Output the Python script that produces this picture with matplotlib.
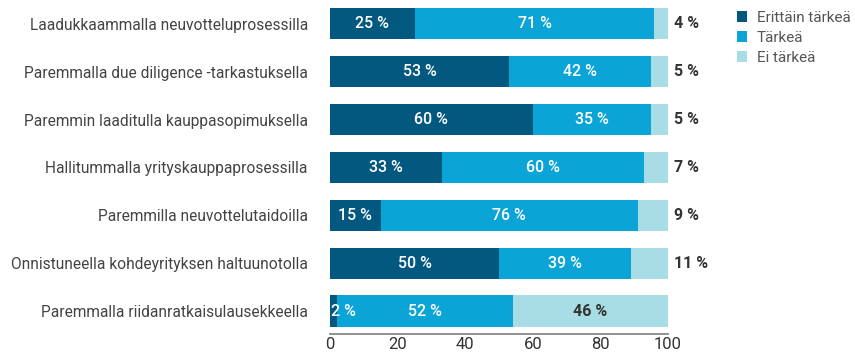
import matplotlib
matplotlib.use("Agg")
from matplotlib import pyplot as plt
import numpy as np

plt.rcParams["font.family"] = ["Roboto", "DejaVu Sans"]

categories = [
    "Laadukkaammalla neuvotteluprosessilla",
    "Paremmalla due diligence -tarkastuksella",
    "Paremmin laaditulla kauppasopimuksella",
    "Hallitummalla yrityskauppaprosessilla",
    "Paremmilla neuvottelutaidoilla",
    "Onnistuneella kohdeyrityksen haltuunotolla",
    "Paremmalla riidanratkaisulausekkeella",
]
erittain = [25, 53, 60, 33, 15, 50, 2]
tarkea = [71, 42, 35, 60, 76, 39, 52]
ei_tarkea = [4, 5, 5, 7, 9, 11, 46]
series_names = ["Erittäin tärkeä", "Tärkeä", "Ei tärkeä"]
colors = ["#02587f", "#0aa4d6", "#a9dde6"]

fig = plt.figure(figsize=(8.55, 3.52), dpi=100)
ax = fig.add_axes([330 / 855, 18 / 352, 338 / 855, 334 / 352])

y = np.arange(len(categories))
left = np.zeros(len(categories))
lbl = dict(fontsize=11.5, fontweight="medium", va="center")
dark = dict(fontsize=11.5, fontweight="bold", va="center", color="#333333")
for vals, name, col in zip([erittain, tarkea, ei_tarkea], series_names, colors):
    vals = np.array(vals)
    ax.barh(y, vals, left=left, height=0.65, color=col, label=name)
    for i, v in enumerate(vals):
        if col == colors[2]:
            if v < 20:
                ax.text(101.8, y[i], f"{v} %", ha="left", **dark)
            else:
                ax.text(left[i] + v / 2, y[i], f"{v} %", ha="center", **dark)
        elif v < 5:
            ax.text(left[i] + 0.2, y[i], f"{v} %", ha="left", color="white", **lbl)
        else:
            ax.text(left[i] + v / 2, y[i], f"{v} %", ha="center", color="white", **lbl)
    left += vals

ax.set_yticks(y)
ax.set_yticklabels(categories, fontsize=11.2, color="#444444")
ax.set_ylim(len(categories) - 0.52, -0.5)
ax.set_xlim(0, 100)
ax.set_xticks([0, 20, 40, 60, 80, 100])
ax.tick_params(axis="x", length=0, labelsize=12, colors="#333333", pad=2)
ax.tick_params(axis="y", length=0, pad=16)
for s in ["top", "right", "left"]:
    ax.spines[s].set_visible(False)
ax.spines["bottom"].set_color("#888888")
ax.spines["bottom"].set_linewidth(1.3)

leg = fig.legend(loc="upper left", bbox_to_anchor=(726 / 855, 1.0), frameon=False,
                 fontsize=11, handlelength=0.7, handleheight=0.7, handletextpad=0.6,
                 labelspacing=0.4, borderaxespad=0.3)
for t in leg.get_texts():
    t.set_color("#555555")

fig.savefig("out.png", dpi=100)
